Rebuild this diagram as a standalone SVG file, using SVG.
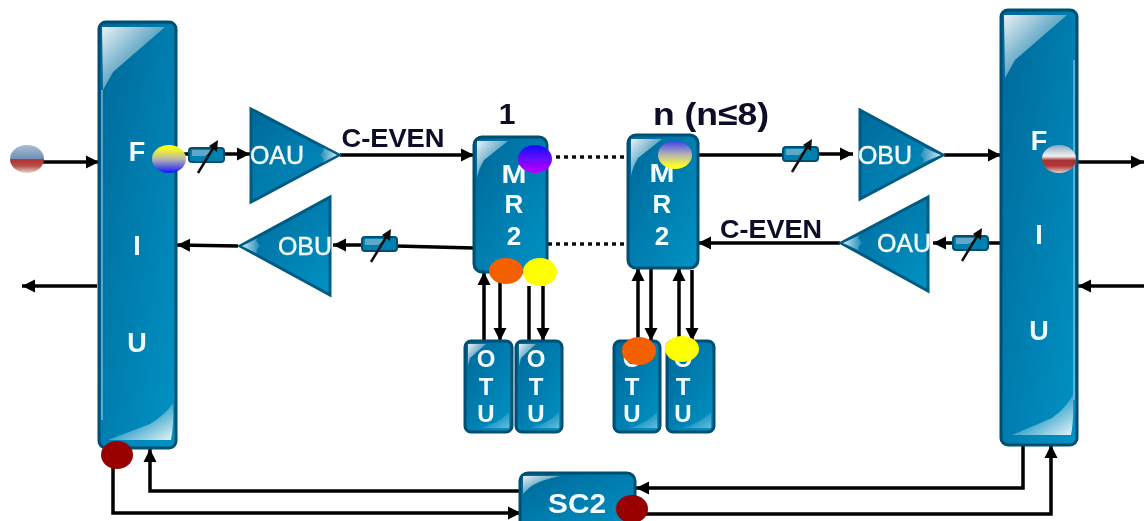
<svg xmlns="http://www.w3.org/2000/svg" width="1144" height="521" viewBox="0 0 1144 521">
<style>
.box{fill:url(#blue);stroke:#004f73;stroke-width:3}
.tri{fill:url(#blue);stroke:#005a82;stroke-width:3;stroke-linejoin:miter}
.t{font-family:"Liberation Sans",Arial,sans-serif;font-weight:bold;fill:#f2fbff;text-anchor:middle}
.u{font-family:"Liberation Sans",Arial,sans-serif;fill:#f2fbff;text-anchor:middle;font-size:25px;stroke:#f2fbff;stroke-width:.4}
.k{font-family:"Liberation Sans",Arial,sans-serif;font-weight:bold;fill:#0a0a28;text-anchor:middle}
.l{fill:none;stroke:#000;stroke-width:3.5}
.a{fill:none;stroke:#000;stroke-width:3.5;marker-end:url(#ah)}
.d{fill:none;stroke:#111;stroke-width:3.5;stroke-dasharray:4 4}
.gl{fill:url(#gloss)}
.gr{fill:url(#glossr)}
.gs{fill:url(#glossr);opacity:.45}
.hl{fill:none;stroke:#bcdbe8;stroke-width:1.2;opacity:.8}
</style>
<defs>
<filter id="soft" filterUnits="userSpaceOnUse" x="0" y="0" width="1144" height="521"><feGaussianBlur stdDeviation="0.55"/></filter>
<linearGradient id="blue" x1="0" y1="0" x2="1" y2="1"><stop offset="0" stop-color="#00689a"/><stop offset="1" stop-color="#0093c4"/></linearGradient>
<linearGradient id="gloss" x1="0" y1="0" x2="1" y2="1"><stop offset="0" stop-color="#e8f1f6"/><stop offset=".75" stop-color="#1f82ac"/><stop offset="1" stop-color="#0a75a2"/></linearGradient>
<linearGradient id="glossr" x1="0" y1="0" x2="1" y2="1"><stop offset=".35" stop-color="#0a8fc0"/><stop offset="1" stop-color="#e8f4f8"/></linearGradient>
<linearGradient id="tipr" x1="0" y1="0" x2="1" y2="0"><stop offset="0" stop-color="#1a8ab8"/><stop offset="1" stop-color="#cfe8f1"/></linearGradient>
<linearGradient id="tipl" x1="1" y1="0" x2="0" y2="0"><stop offset="0" stop-color="#1a8ab8"/><stop offset="1" stop-color="#cfe8f1"/></linearGradient>
<linearGradient id="rb" x1="0" y1="0" x2="0" y2="1"><stop offset="0" stop-color="#a9bdd2"/><stop offset=".5" stop-color="#6f8fb5"/><stop offset=".52" stop-color="#b03030"/><stop offset=".75" stop-color="#b85048"/><stop offset="1" stop-color="#e3d8d0"/></linearGradient>
<linearGradient id="rb2" x1="0" y1="0" x2="0" y2="1"><stop offset="0" stop-color="#8fa7c0"/><stop offset=".4" stop-color="#f2f2f2"/><stop offset=".55" stop-color="#a83030"/><stop offset=".75" stop-color="#b03838"/><stop offset="1" stop-color="#e6d2cc"/></linearGradient>
<linearGradient id="yb" x1="0" y1="0" x2="0" y2="1"><stop offset=".1" stop-color="#ffff10"/><stop offset=".5" stop-color="#b8b8b0"/><stop offset="1" stop-color="#1010ff"/></linearGradient>
<linearGradient id="by" x1="0" y1="0" x2="0" y2="1"><stop offset="0" stop-color="#4040f0"/><stop offset=".5" stop-color="#b8b8b0"/><stop offset=".9" stop-color="#ffff20"/></linearGradient>
<linearGradient id="bp" x1="0" y1="0" x2="0" y2="1"><stop offset="0" stop-color="#1010ff"/><stop offset="1" stop-color="#c000ff"/></linearGradient>
<marker id="ah" markerUnits="userSpaceOnUse" markerWidth="14" markerHeight="14" refX="13" refY="7" orient="auto"><path d="M0,0.5L13,7L0,13.5Z" fill="#000"/></marker>
<symbol id="att" overflow="visible"><rect x="0" y="0" width="35" height="14" rx="3" fill="#0080ae" stroke="#004f73" stroke-width="2"/><path d="M3,2H24L16,8H3Z" fill="#5fa8c8"/><path d="M9,25L26,-3" stroke="#111" stroke-width="2.5" fill="none"/><path d="M20,-2L29,-8L28,4Z" fill="#111"/></symbol>
</defs>

<g filter="url(#soft)">
<g id="connectors">
<path class="a" d="M42,162H99"/>
<path class="l" d="M177,154H189"/>
<path class="a" d="M224,154H250"/>
<path class="a" d="M340,155H474"/>
<path class="a" d="M238,246L177,245"/>
<path class="a" d="M362,245H333"/>
<path class="l" d="M396,246L474,248"/>
<path class="a" d="M97,286H22"/>
<path class="d" d="M556,157H626"/>
<path class="d" d="M548,244H626"/>
<path class="l" d="M698,155H783"/>
<path class="a" d="M818,154H853"/>
<path class="a" d="M944,155H1001"/>
<path class="a" d="M1077,162H1144"/>
<path class="a" d="M840,243H698"/>
<path class="a" d="M953,243H933"/>
<path class="l" d="M988,243H1001"/>
<path class="a" d="M1144,286H1078"/>
<path class="a" d="M484,341V272"/>
<path class="a" d="M500,272V341"/>
<path class="l" d="M529,286V341"/>
<path class="a" d="M543,286V341"/>
<path class="a" d="M638,341V268"/>
<path class="a" d="M651,268V341"/>
<path class="a" d="M679,341V268"/>
<path class="a" d="M692,270V341"/>
<path class="a" d="M520,491H150V449"/>
<path class="a" d="M113,468V513H521"/>
<path class="a" d="M1023,445V488H636"/>
<path class="a" d="M645,514H1051V445"/>
</g>

<g id="fiu-left"><rect class="box" x="99" y="22" width="77" height="426" rx="7"/><path class="gl" d="M102,27H165L113,72L103,90Z"/><path class="gr" d="M108,440L150,424Q165,415 173,403Q174,425 171,440Z"/><path class="hl" d="M102,90V420"/><text class="t" x="137" y="161" font-size="27">F</text><text class="t" x="137" y="255" font-size="27">I</text><text class="t" x="137" y="352" font-size="27">U</text></g>
<g id="fiu-right"><rect class="box" x="1001" y="10" width="76" height="435" rx="7"/><path class="gl" d="M1004,15H1067L1015,60L1005,78Z"/><path class="gr" d="M1012,435L1052,418Q1066,408 1073,395Q1074,420 1071,435Z"/><path class="hl" d="M1074,60V400"/><text class="t" x="1039" y="150" font-size="27">F</text><text class="t" x="1039" y="244" font-size="27">I</text><text class="t" x="1039" y="340" font-size="27">U</text></g>

<g id="oau-left"><polygon class="tri" points="251,109 339,155 251,202"/><path d="M320,155Q326,149 322,147L337,155L322,163Q326,160 320,155Z" fill="url(#tipr)"/><text class="u" x="277" y="164">OAU</text></g>
<g id="obu-left"><polygon class="tri" points="330,197 240,246 330,295"/><path d="M260,246Q254,240 258,238L242,246L258,254Q254,251 260,246Z" fill="url(#tipl)"/><text class="u" x="305" y="255">OBU</text></g>
<g id="obu-right"><polygon class="tri" points="860,110 943,155 860,199"/><path d="M920,155Q926,149 922,147L941,155L922,163Q926,160 920,155Z" fill="url(#tipr)"/><text class="u" x="885" y="164">OBU</text></g>
<g id="oau-right"><polygon class="tri" points="928,197 841,243 928,291"/><path d="M862,243Q856,237 860,235L843,243L860,251Q856,248 862,243Z" fill="url(#tipl)"/><text class="u" x="904" y="252">OAU</text></g>

<use href="#att" x="189" y="148"/>
<use href="#att" x="362" y="237"/>
<use href="#att" x="783" y="147"/>
<use href="#att" x="953" y="236"/>

<g id="mr2-1"><rect class="box" x="474" y="137" width="73" height="135" rx="8"/><path class="gl" d="M477,141H508L484,160Q479,168 477,178Z"/><text class="t" x="514" y="183" font-size="26" textLength="25" lengthAdjust="spacingAndGlyphs">M</text><text class="t" x="514" y="213" font-size="26">R</text><text class="t" x="514" y="245" font-size="26">2</text></g>
<g id="mr2-n"><rect class="box" x="628" y="135" width="70" height="133" rx="8"/><path class="gl" d="M631,139H662L638,158Q633,166 631,176Z"/><text class="t" x="662" y="182" font-size="26" textLength="25" lengthAdjust="spacingAndGlyphs">M</text><text class="t" x="662" y="213" font-size="26">R</text><text class="t" x="662" y="245" font-size="26">2</text></g>

<g id="otu-1"><rect class="box" x="465" y="341" width="47" height="91" rx="6"/><path class="gl" d="M468,344H486L470,358L468,366Z"/><path class="gs" d="M480,428Q498,424 509,412V428Z"/><text class="t" x="486" y="367" font-size="24">O</text><text class="t" x="486" y="395" font-size="24">T</text><text class="t" x="486" y="422" font-size="24">U</text></g>
<g id="otu-2"><rect class="box" x="516" y="341" width="46" height="91" rx="6"/><path class="gl" d="M519,344H536L521,358L519,366Z"/><path class="gs" d="M530,428Q548,424 559,412V428Z"/><text class="t" x="536" y="367" font-size="24">O</text><text class="t" x="536" y="395" font-size="24">T</text><text class="t" x="536" y="422" font-size="24">U</text></g>
<g id="otu-3"><rect class="box" x="614" y="341" width="46" height="91" rx="6"/><path class="gs" d="M628,428Q646,424 657,412V428Z"/><text class="t" x="632" y="367" font-size="24">O</text><text class="t" x="632" y="395" font-size="24">T</text><text class="t" x="632" y="422" font-size="24">U</text></g>
<g id="otu-4"><rect class="box" x="667" y="341" width="47" height="91" rx="6"/><path class="gs" d="M681,428Q699,424 711,412V428Z"/><text class="t" x="683" y="367" font-size="24">O</text><text class="t" x="683" y="395" font-size="24">T</text><text class="t" x="683" y="422" font-size="24">U</text></g>

<g id="sc2"><rect class="box" x="520" y="473" width="115" height="60" rx="8"/><path class="gl" d="M523,476H560Q540,480 530,487L523,494Z"/><text class="t" x="577" y="513" font-size="27" textLength="58" lengthAdjust="spacingAndGlyphs">SC2</text></g>

<g id="labels">
<text class="k" x="393" y="147" font-size="25" textLength="103" lengthAdjust="spacingAndGlyphs">C-EVEN</text>
<text class="k" x="771" y="238" font-size="25" textLength="102" lengthAdjust="spacingAndGlyphs">C-EVEN</text>
<text class="k" x="507" y="124" font-size="30">1</text>
<text class="k" x="711" y="125" font-size="32" textLength="116" lengthAdjust="spacingAndGlyphs">n (n≤8)</text>
</g>

<g id="ports">
<ellipse cx="27" cy="159" rx="17" ry="14" fill="url(#rb)"/>
<ellipse cx="169" cy="159" rx="17" ry="14" fill="url(#yb)"/>
<ellipse cx="1059" cy="159" rx="17" ry="14" fill="url(#rb2)"/>
<ellipse cx="535" cy="159" rx="17" ry="14" fill="url(#bp)"/>
<ellipse cx="675" cy="155" rx="17" ry="14" fill="url(#by)"/>
<ellipse cx="506" cy="271" rx="17" ry="13" fill="#f46000"/>
<ellipse cx="540" cy="272" rx="17" ry="14" fill="#ffff00"/>
<ellipse cx="639" cy="351" rx="17" ry="14" fill="#f46000"/>
<ellipse cx="682" cy="349" rx="17" ry="13" fill="#ffff00"/>
<ellipse cx="117" cy="455" rx="16" ry="14" fill="#990000"/>
<ellipse cx="632" cy="509" rx="16" ry="14" fill="#990000"/>
</g>
</g>
</svg>
